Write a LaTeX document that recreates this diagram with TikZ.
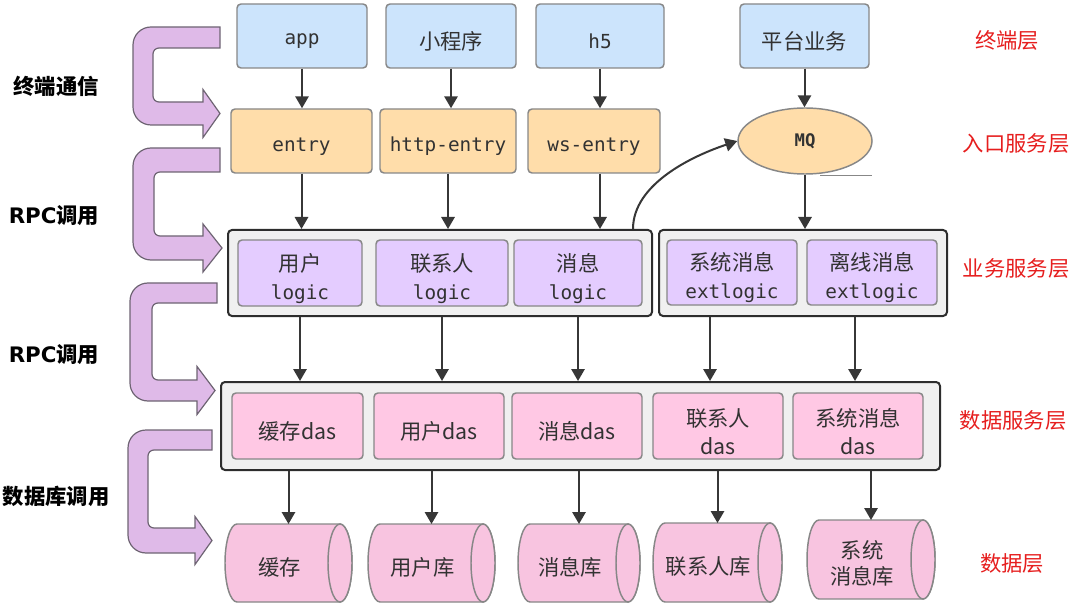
\documentclass[tikz,border=0pt]{standalone}
\usepackage{fontspec}
\setmainfont{DejaVu Sans}
\newfontfamily\cjk{Noto Sans CJK SC}
\newfontfamily\mono{DejaVu Sans Mono}
\usetikzlibrary{shapes.geometric,arrows.meta,calc}
\definecolor{blueF}{RGB}{204,228,252}
\definecolor{orangeF}{RGB}{255,221,170}
\definecolor{lavF}{RGB}{228,204,255}
\definecolor{pinkF}{RGB}{255,200,228}
\definecolor{cylF}{RGB}{248,196,224}
\definecolor{grpF}{RGB}{240,240,240}
\definecolor{grpD}{RGB}{45,45,45}
\definecolor{boxD}{RGB}{135,135,135}
\definecolor{txt}{RGB}{50,50,50}
\definecolor{arrC}{RGB}{55,55,55}
\definecolor{purpF}{RGB}{223,186,232}
\definecolor{purpD}{RGB}{110,100,115}
\definecolor{redL}{RGB}{230,30,30}
\newcommand\px{0.75pt}
\newcommand\zh[1]{{\cjk\fontsize{16}{21}\selectfont #1}}
\newcommand\bigC[9]{%
 \filldraw[bigarrow] (#1,#2) -- ({#4+18},#2) arc[start angle=270,end angle=180,radius=18]
  -- (#4,{#7-18}) arc[start angle=180,end angle=90,radius=18]
  -- (#8,#7) -- (#8,{(#6+#7)/2+24}) -- (#9,{(#6+#7)/2}) -- (#8,{(#6+#7)/2-24}) -- (#8,#6)
  -- ({#5+6},#6) arc[start angle=90,end angle=180,radius=6]
  -- (#5,{#3+6}) arc[start angle=180,end angle=270,radius=6]
  -- (#1,#3) -- cycle;}
\newcommand\dbcyl[6]{%
 \filldraw[cyl] ({#2+12},#3) -- ({#4-12},#3) arc[start angle=-90,end angle=90,x radius=12,y radius={(#5-#3)/2}]
  -- ({#2+12},#5) arc[start angle=90,end angle=270,x radius=12,y radius={(#5-#3)/2}] -- cycle;
 \draw[cyl] ({#4-12},{(#3+#5)/2}) ellipse[x radius=12,y radius={(#5-#3)/2}];
 \coordinate (#1) at ({(#2+#4)/2},#3);
 \node[cyltext] (#1t) at ({(#2+#4)/2-9},{(#3+#5)/2+4}) {#6};}
\begin{document}
\begin{tikzpicture}[x=0.75pt,y=-0.75pt,
  span/.style n args={4}{at={({(#1+#3)/2},{(#2+#4)/2})},
    minimum width={(#3-#1)*0.75pt}, minimum height={(#4-#2)*0.75pt}},
  lbl/.style={inner sep=0pt, text=txt, font=\fontsize{14.5}{21}\selectfont, align=center, yshift=-4pt},
  box/.style={draw=boxD, line width=1.1pt, rounded corners=3pt, inner sep=0pt},
  bluebox/.style={box, fill=blueF},
  orangebox/.style={box, fill=orangeF},
  lavbox/.style={box, fill=lavF},
  pinkbox/.style={box, fill=pinkF},
  group/.style={draw=grpD, fill=grpF, line width=1.5pt, rounded corners=3pt, inner sep=0pt},
  arr/.style={draw=arrC, line width=1.5pt, -{Triangle[width=10pt,length=9pt]}},
  leftlab/.style={font=\fontsize{16}{18}\selectfont\bfseries, text=black, inner sep=0pt},
  rightlab/.style={font=\fontsize{16}{18}\selectfont\cjk, text=redL, inner sep=0pt},
  bigarrow/.style={fill=purpF, draw=purpD, line width=0.9pt},
  cyl/.style={fill=cylF, draw=boxD, line width=1.1pt},
  cyltext/.style={text=txt, font=\fontsize{16}{20}\selectfont\cjk, align=center, inner sep=0pt}
]
\useasboundingbox (0,0) rectangle (1080,609);

% big purple arrows
\bigC{220}{27}{48}{133}{153}{102}{125}{203}{220}
\bigC{220}{148}{172}{133}{154}{236}{260}{203}{222}
\bigC{217}{283}{303}{130}{152}{380}{401}{197}{215}
\bigC{212}{430}{450}{128}{148}{528}{553}{195}{212}

% left labels
\node[leftlab] (c1) at (56,86) {\cjk 终端通信};
\node[leftlab] (c2) at (54,216) {RPC\cjk 调用};
\node[leftlab] (c3) at (54,355) {RPC\cjk 调用};
\node[leftlab] (c4) at (56,496) {\cjk 数据库调用};

% right labels
\node[rightlab] (r1) at (1007,40) {终端层};
\node[rightlab] (r2) at (1016,143) {入口服务层};
\node[rightlab] (r3) at (1016,268) {业务服务层};
\node[rightlab] (r4) at (1013,420) {数据服务层};
\node[rightlab] (r5) at (1012,563) {数据层};

% terminal layer
\node[bluebox, span={237}{4}{367}{68}, label={[lbl]center:\mono app}] (t1) {};
\node[bluebox, span={386}{4}{516}{68}, label={[lbl]center:\zh{小程序}}] (t2) {};
\node[bluebox, span={536}{4}{664}{68}, label={[lbl]center:\mono h5}] (t3) {};
\node[bluebox, span={740}{4}{869}{68}, label={[lbl]center:\zh{平台业务}}] (t4) {};

% entry layer
\node[orangebox, span={231}{109}{372}{173}, label={[lbl]center:\mono entry}] (e1) {};
\node[orangebox, span={380}{109}{516}{173}, label={[lbl]center:\mono http-entry}] (e2) {};
\node[orangebox, span={528}{109}{660}{173}, label={[lbl]center:\mono ws-entry}] (e3) {};
\node[ellipse, draw=boxD, line width=1.1pt, fill=orangeF, minimum width=134*\px, minimum height=66*\px,
  inner sep=0pt, text=txt, font=\fontsize{13}{15}\selectfont\mono\bfseries] (mq) at (805,141) {MQ};
\draw[draw=boxD, line width=1.1pt] ($(mq.south)+(15,1)$) -- ($(mq.south)+(67,1)$);

% logic layer
\node[group, span={228}{230}{652}{316}] (g1) {};
\node[group, span={659}{230}{947}{316}] (g2) {};
\node[lavbox, span={238}{240}{362}{306}, label={[lbl]center:{\zh{用户}\\\mono logic}}] (l1) {};
\node[lavbox, span={376}{240}{508}{306}, label={[lbl]center:{\zh{联系人}\\\mono logic}}] (l2) {};
\node[lavbox, span={514}{240}{642}{306}, label={[lbl]center:{\zh{消息}\\\mono logic}}] (l3) {};
\node[lavbox, span={667}{240}{797}{305}, label={[lbl]center:{\zh{系统消息}\\\mono extlogic}}] (l4) {};
\node[lavbox, span={807}{240}{937}{305}, label={[lbl]center:{\zh{离线消息}\\\mono extlogic}}] (l5) {};

% das layer
\node[group, span={221}{382}{940}{470}] (dg) {};
\node[pinkbox, span={232}{393}{363}{459}, label={[lbl]center:\zh{缓存das}}] (d1) {};
\node[pinkbox, span={374}{393}{504}{459}, label={[lbl]center:\zh{用户das}}] (d2) {};
\node[pinkbox, span={512}{393}{642}{459}, label={[lbl]center:\zh{消息das}}] (d3) {};
\node[pinkbox, span={653}{393}{783}{459}, label={[lbl]center:{\zh{联系人}\\\zh{das}}}] (d4) {};
\node[pinkbox, span={793}{393}{923}{459}, label={[lbl]center:{\zh{系统消息}\\\zh{das}}}] (d5) {};

% databases
\dbcyl{db1}{225}{524}{352}{602}{缓存}
\dbcyl{db2}{368}{524}{495}{602}{用户库}
\dbcyl{db3}{518}{524}{640}{602}{消息库}
\dbcyl{db4}{653}{523}{782}{602}{联系人库}
\dbcyl{db5}{807}{520}{935}{599}{系统\\消息库}

% connectors
\draw[arr] (t1.south) -- (t1.south |- e1.north);
\draw[arr] (t2.south) -- (t2.south |- e2.north);
\draw[arr] (t3.south) -- (t3.south |- e3.north);
\draw[arr] (t4.south) -- (t4.south |- mq.north);
\draw[arr] (e1.south) -- (e1.south |- g1.north);
\draw[arr] (e2.south) -- (e2.south |- g1.north);
\draw[arr] (t3.south |- e3.south) -- (t3.south |- g1.north);
\draw[arr] (mq.south) -- (mq.south |- g2.north);
\draw[arr] ($(g1.north east)+(-20,0)$) .. controls +(0,-45) and +(-45,15) .. (mq.west);

\draw[arr] (l1.south |- g1.south) -- (l1.south |- dg.north);
\draw[arr] (l2.south |- g1.south) -- (l2.south |- dg.north);
\draw[arr] (l3.south |- g1.south) -- (l3.south |- dg.north);
\draw[arr] ($(l4.south |- g2.south)+(-22,0)$) -- ($(l4.south |- dg.north)+(-22,0)$);
\draw[arr] ($(l5.south |- g2.south)+(-17,0)$) -- ($(l5.south |- dg.north)+(-17,0)$);

\draw[arr] (db1 |- dg.south) -- (db1);
\draw[arr] (db2 |- dg.south) -- (db2);
\draw[arr] (db3 |- dg.south) -- (db3);
\draw[arr] (db4 |- dg.south) -- (db4);
\draw[arr] (db5 |- dg.south) -- (db5);
\end{tikzpicture}
\end{document}
